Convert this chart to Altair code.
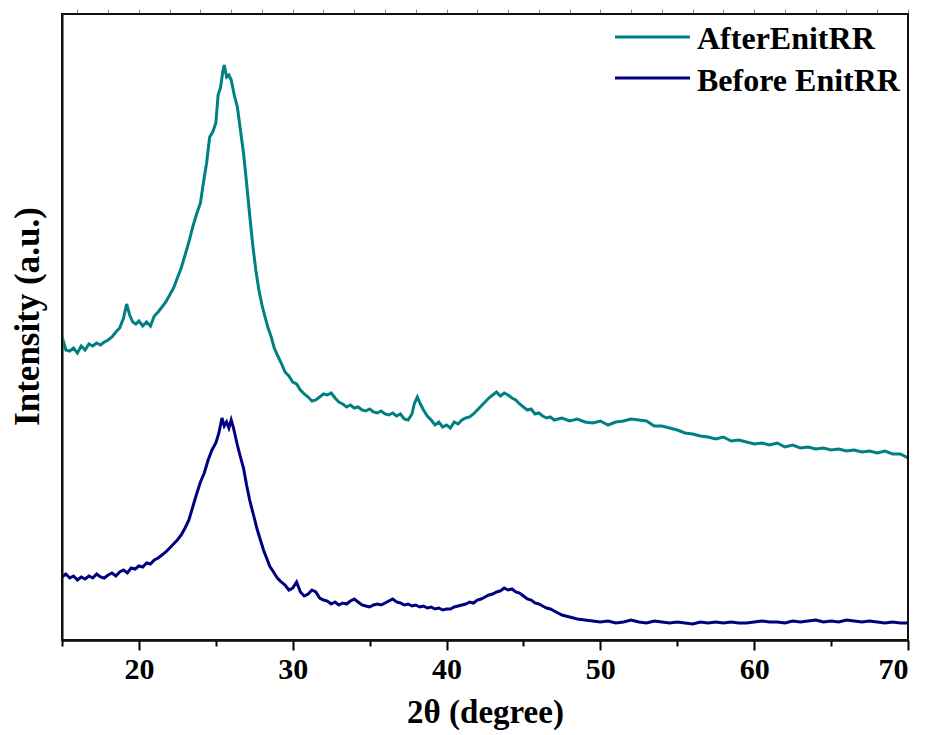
import altair as alt
import pandas as pd

# ---- data (intensity in arbitrary units) ----
after_x = [15.0, 15.1, 15.25, 15.5, 15.75, 16.0, 16.25, 16.5, 16.75, 17.0, 17.25, 17.5, 17.75, 18.0,
           18.25, 18.5, 18.75, 19.0, 19.2, 19.4, 19.6, 19.8, 20.0, 20.25, 20.5, 20.75, 21.0, 21.25,
           21.5, 21.75, 22.0, 22.25, 22.5, 22.75, 23.0, 23.25, 23.5, 23.75, 24.0, 24.2, 24.4, 24.6,
           24.8, 25.0, 25.15, 25.3, 25.45, 25.55, 25.7, 25.85, 26.0, 26.2, 26.4, 26.6, 26.8, 27.0,
           27.2, 27.4, 27.6, 27.8, 28.0, 28.2, 28.4, 28.6, 28.8, 29.0, 29.25, 29.5, 29.75, 30.0,
           30.25, 30.5, 30.75, 31.0, 31.25, 31.5, 31.75, 32.0, 32.25, 32.5, 32.75, 33.0, 33.25, 33.5,
           33.75, 34.0, 34.25, 34.5, 34.75, 35.0, 35.25, 35.5, 35.75, 36.0, 36.25, 36.5, 36.75, 37.0,
           37.25, 37.5, 37.75, 37.9, 38.1, 38.3, 38.5, 38.75, 39.0, 39.25, 39.5, 39.75, 40.0, 40.25,
           40.5, 40.75, 41.0, 41.25, 41.5, 41.75, 42.0, 42.25, 42.5, 42.75, 43.0, 43.25, 43.5, 43.75,
           44.0, 44.25, 44.5, 44.75, 45.0, 45.25, 45.5, 45.75, 46.0, 46.25, 46.5, 46.75, 47.0, 47.5,
           48.0, 48.5, 49.0, 49.5, 50.0, 50.5, 51.0, 51.5, 52.0, 52.5, 53.0, 53.5, 54.0, 54.5,
           55.0, 55.5, 56.0, 56.5, 57.0, 57.5, 58.0, 58.5, 59.0, 59.5, 60.0, 60.5, 61.0, 61.5,
           62.0, 62.5, 63.0, 63.5, 64.0, 64.5, 65.0, 65.5, 66.0, 66.5, 67.0, 67.5, 68.0, 68.5,
           69.0, 69.5, 70.0]
after_y = [292, 298, 290, 289, 292, 287, 294, 290, 296, 294, 297, 295, 298, 300,
           303, 308, 312, 322, 336, 325, 318, 316, 319, 314, 318, 314, 324, 328,
           333, 338, 345, 352, 362, 372, 385, 398, 413, 426, 437, 458, 477, 503,
           508, 517, 545, 552, 568, 575, 563, 565, 560, 545, 533, 510, 487, 457,
           425, 395, 370, 350, 335, 323, 312, 303, 292, 285, 277, 268, 264, 258,
           256, 250, 246, 243, 239, 240, 243, 246, 245, 247, 242, 238, 236, 233,
           235, 232, 233, 230, 229, 231, 228, 227, 229, 226, 225, 227, 224, 226,
           221, 220, 226, 236, 243, 236, 230, 224, 220, 215, 218, 213, 215, 212,
           218, 216, 220, 222, 223, 226, 230, 234, 238, 242, 245, 248, 244, 247,
           245, 242, 240, 236, 233, 230, 231, 226, 227, 224, 222, 223, 220, 222,
           219, 221, 218, 217, 219, 215, 218, 219, 221, 220, 219, 214, 214, 212,
           210, 207, 206, 204, 203, 201, 203, 199, 200, 198, 196, 197, 195, 197,
           193, 195, 192, 193, 191, 192, 190, 191, 189, 190, 188, 189, 187, 189,
           186, 186, 182]

before_x = [15.0, 15.25, 15.5, 15.75, 16.0, 16.25, 16.5, 16.75, 17.0, 17.25, 17.5, 17.75, 18.0, 18.25,
            18.5, 18.75, 19.0, 19.25, 19.5, 19.75, 20.0, 20.25, 20.5, 20.75, 21.0, 21.25, 21.5, 21.75,
            22.0, 22.25, 22.5, 22.75, 23.0, 23.25, 23.5, 23.75, 24.0, 24.25, 24.5, 24.75, 25.0, 25.2,
            25.4, 25.55, 25.7, 25.85, 26.0, 26.15, 26.4, 26.6, 26.8, 27.0, 27.2, 27.45, 27.7, 27.9,
            28.1, 28.3, 28.5, 28.75, 29.0, 29.25, 29.5, 29.75, 30.0, 30.25, 30.5, 30.75, 31.0, 31.25,
            31.5, 31.75, 32.0, 32.25, 32.5, 32.75, 33.0, 33.25, 33.5, 33.75, 34.0, 34.25, 34.5, 34.75,
            35.0, 35.25, 35.5, 35.75, 36.0, 36.25, 36.5, 36.75, 37.0, 37.25, 37.5, 37.75, 38.0, 38.25,
            38.5, 38.75, 39.0, 39.25, 39.5, 39.75, 40.0, 40.25, 40.5, 40.75, 41.0, 41.25, 41.5, 41.75,
            42.0, 42.25, 42.5, 42.75, 43.0, 43.25, 43.5, 43.75, 44.0, 44.25, 44.5, 44.75, 45.0, 45.25,
            45.5, 45.75, 46.0, 46.25, 46.5, 46.75, 47.0, 47.25, 47.5, 47.75, 48.0, 48.5, 49.0, 49.5,
            50.0, 50.5, 51.0, 51.5, 52.0, 52.5, 53.0, 53.5, 54.0, 54.5, 55.0, 55.5, 56.0, 56.5,
            57.0, 57.5, 58.0, 58.5, 59.0, 59.5, 60.0, 60.5, 61.0, 61.5, 62.0, 62.5, 63.0, 63.5,
            64.0, 64.5, 65.0, 65.5, 66.0, 66.5, 67.0, 67.5, 68.0, 68.5, 69.0, 69.5, 70.0]
before_y = [63, 66, 62, 64, 60, 63, 61, 64, 62, 66, 63, 62, 65, 67,
            64, 68, 70, 67, 72, 71, 74, 73, 77, 76, 80, 82, 85, 88,
            92, 96, 100, 105, 112, 120, 133, 146, 158, 167, 180, 190, 197, 207,
            222, 214, 218, 212, 220, 212, 195, 183, 172, 155, 140, 125, 110, 100,
            90, 82, 74, 68, 62, 58, 55, 50, 52, 58, 48, 44, 46, 50,
            48, 42, 40, 39, 36, 38, 35, 37, 36, 39, 41, 38, 35, 34,
            33, 35, 36, 35, 37, 39, 41, 38, 37, 35, 36, 34, 35, 33,
            34, 32, 33, 31, 32, 30, 31, 31, 33, 34, 35, 36, 38, 37,
            40, 41, 43, 45, 46, 48, 49, 52, 50, 51, 48, 47, 44, 41,
            40, 37, 36, 34, 32, 31, 29, 27, 25, 24, 23, 21, 20, 19,
            18, 19, 17, 18, 20, 18, 17, 19, 18, 17, 18, 17, 16, 18,
            17, 18, 17, 18, 17, 17, 18, 19, 18, 18, 17, 19, 18, 19,
            20, 18, 19, 18, 20, 19, 18, 19, 18, 17, 18, 17, 17]

series_names = ["AfterEnitRR", "Before EnitRR"]
series_colors = ["#008080", "#000080"]
x_major = [20, 30, 40, 50, 60, 70]
x_minor = [15, 25, 35, 45, 55, 65]

FONT = "Liberation Serif"

df = pd.concat([
    pd.DataFrame({"x": after_x, "y": after_y, "series": series_names[0], "order": range(len(after_x))}),
    pd.DataFrame({"x": before_x, "y": before_y, "series": series_names[1], "order": range(len(before_x))}),
])

xscale = alt.Scale(domain=[15, 70], nice=False, zero=False)
yscale = alt.Scale(domain=[0, 626], nice=False, zero=False)
cscale = alt.Scale(domain=series_names, range=series_colors)

lines = alt.Chart(df).mark_line(strokeWidth=3, clip=True).encode(
    x=alt.X("x:Q", scale=xscale,
            axis=alt.Axis(values=x_major, orient="bottom", title="2θ (degree)", tickSize=10, tickWidth=2,
                          labelPadding=4, labelFont=FONT, labelFontSize=30, labelFontWeight="bold",
                          labelColor="black", titleFont=FONT, titleFontSize=33, titleFontWeight="bold",
                          titleColor="black", titlePadding=12, domainColor="black", domainWidth=2,
                          tickColor="black", grid=False)),
    y=alt.Y("y:Q", scale=yscale,
            axis=alt.Axis(orient="left", ticks=False, labels=False, title="Intensity (a.u.)", titleFont=FONT,
                          titleFontSize=35, titleFontWeight="bold", titleColor="black",
                          titleX=-35, titleY=302, titleAlign="center", titleBaseline="middle",
                          titleAngle=270, domainColor="black", domainWidth=2, grid=False)),
    color=alt.Color("series:N", scale=cscale, legend=None),
    detail="series:N",
    order="order:Q",
)

minor = alt.Chart(pd.DataFrame({"x": x_minor})).mark_point(opacity=0).encode(
    x=alt.X("x:Q", scale=xscale,
            axis=alt.Axis(values=x_minor, orient="bottom", labels=False, title=None, tickSize=6,
                          tickWidth=2, tickColor="black", domainColor="black", domainWidth=2, grid=False)),
)

# plot frame drawn through the scales (domain corners)
frame_df = pd.DataFrame({"x0": [15], "x1": [70], "y0": [0], "y1": [626]})
frame = alt.Chart(frame_df).mark_rect(fillOpacity=0, stroke="#111111", strokeWidth=2,
                                      strokeOpacity=1).encode(
    x=alt.X("x0:Q", scale=xscale), x2="x1:Q",
    y=alt.Y("y0:Q", scale=yscale), y2="y1:Q")

leg_df = pd.DataFrame({"series": series_names})
leg_rule1 = alt.Chart(leg_df.iloc[[0]]).mark_rule(strokeWidth=3).encode(
    x=alt.value(553), x2=alt.value(628), y=alt.value(23),
    color=alt.Color("series:N", scale=cscale, legend=None))
leg_rule2 = alt.Chart(leg_df.iloc[[1]]).mark_rule(strokeWidth=3).encode(
    x=alt.value(553), x2=alt.value(628), y=alt.value(64),
    color=alt.Color("series:N", scale=cscale, legend=None))
leg_text1 = alt.Chart(leg_df.iloc[[0]]).mark_text(
    font=FONT, fontSize=32, fontWeight="bold", align="left", baseline="middle", color="black").encode(
    x=alt.value(635), y=alt.value(25), text="series:N")
leg_text2 = alt.Chart(leg_df.iloc[[1]]).mark_text(
    font=FONT, fontSize=32, fontWeight="bold", align="left", baseline="middle", color="black").encode(
    x=alt.value(635), y=alt.value(67), text="series:N")

chart = alt.layer(lines, minor, frame, leg_rule1, leg_rule2, leg_text1, leg_text2).resolve_axis(
    x="independent"
).properties(
    width=846, height=626,
    autosize=alt.AutoSizeParams(type="none"),
    padding={"left": 54, "top": 6, "right": 12, "bottom": 95},
).configure(background="white").configure_view(stroke="#111111", strokeWidth=2)

chart.save("out.html", embed_options={"renderer": "svg", "actions": False})
